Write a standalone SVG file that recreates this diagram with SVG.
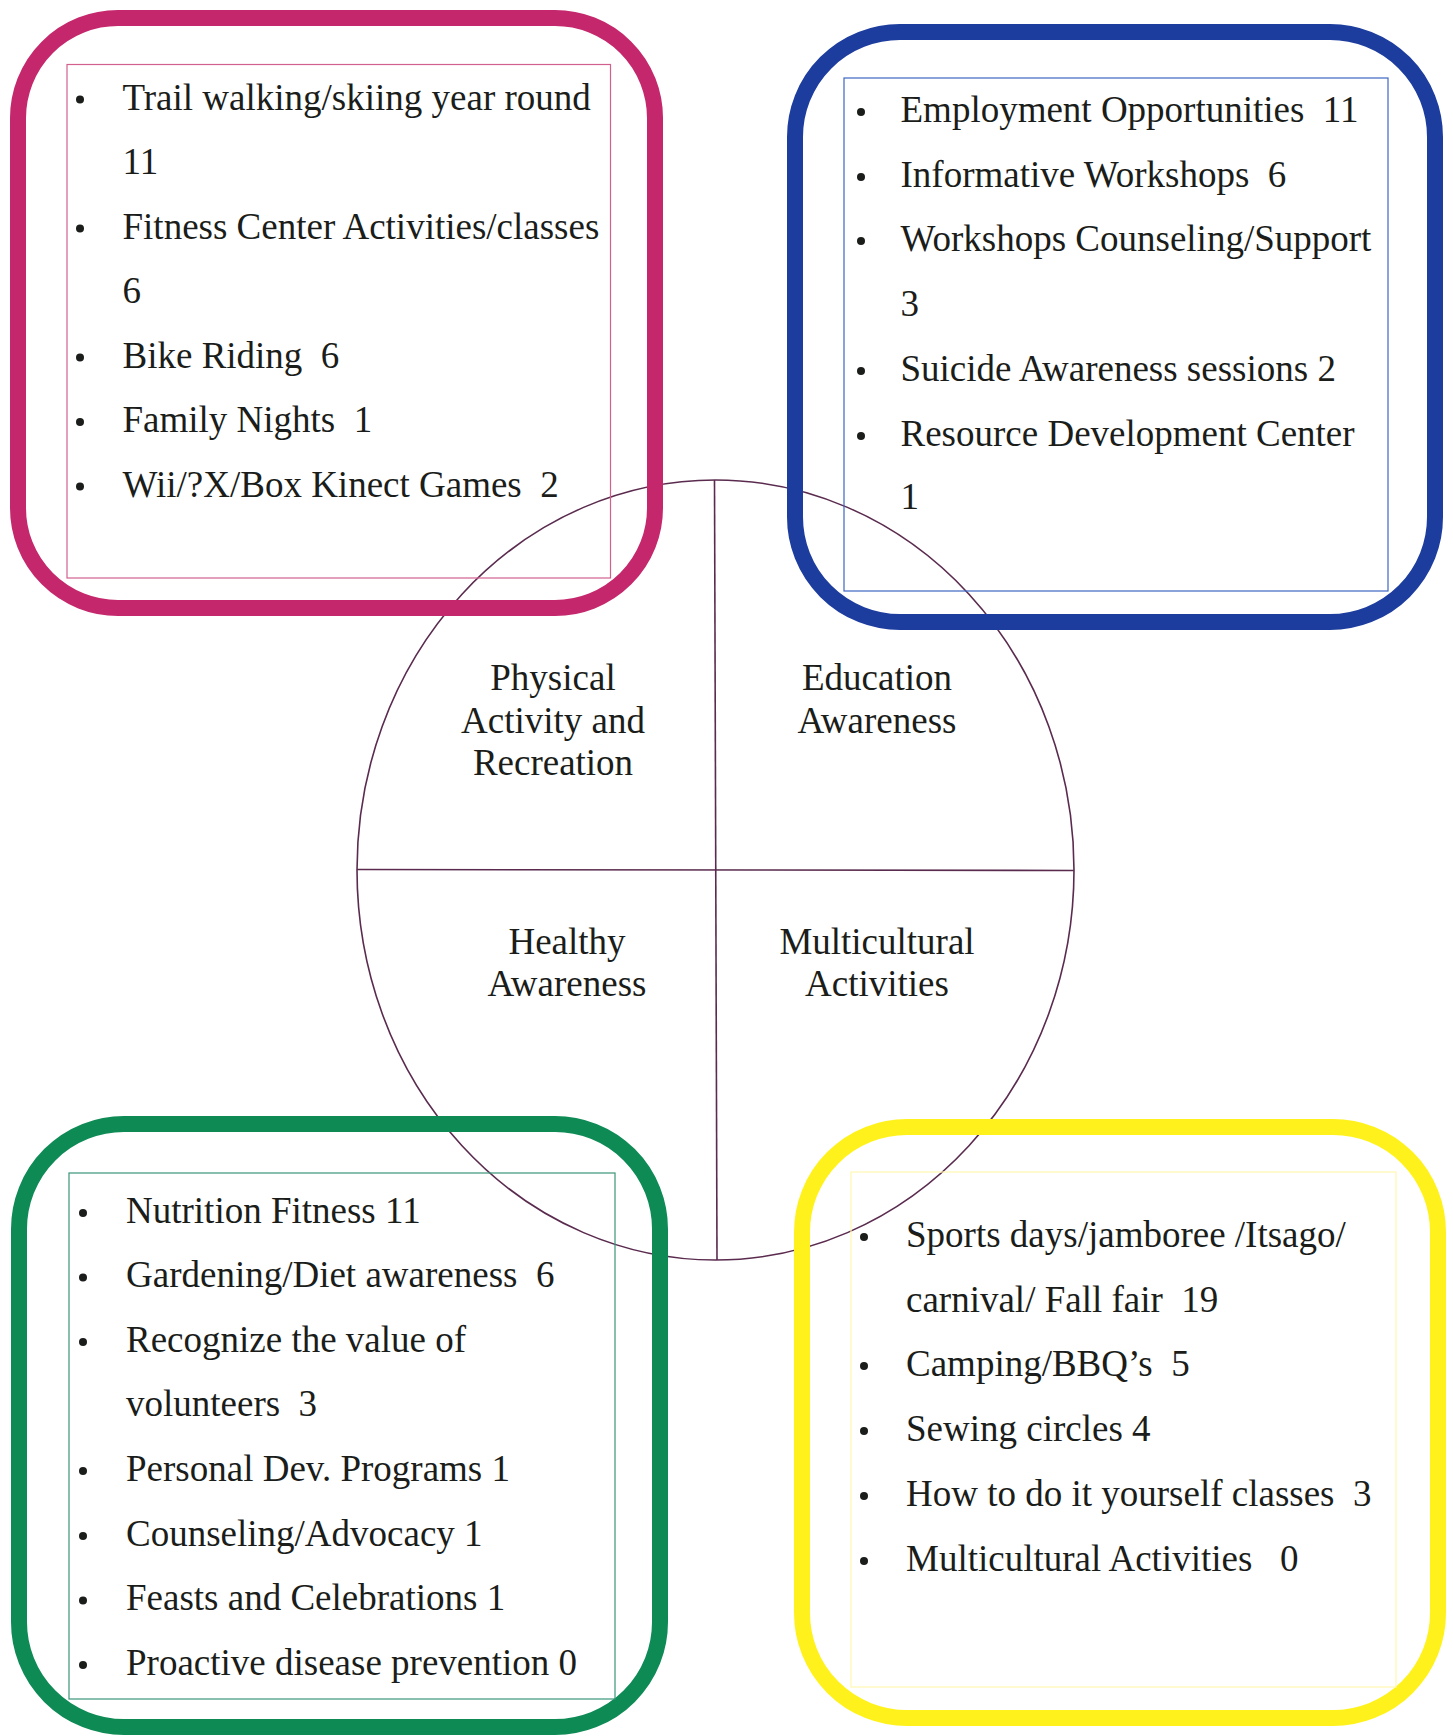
<svg xmlns="http://www.w3.org/2000/svg" width="1453" height="1736" viewBox="0 0 1453 1736">
<style>
text{font-family:"Liberation Serif","Times New Roman",serif;font-size:37px;fill:#1a1d1a;white-space:pre}
.lbl{text-anchor:middle}
.frame{fill:none;stroke-width:16}
.inner{fill:none;stroke-width:1.2}
.bul{fill:#1a1d1a}
.wheel{fill:none;stroke:#5a2b4e;stroke-width:1.6}
</style>
<rect width="1453" height="1736" fill="#ffffff"/>
<g id="connectors">
<ellipse class="wheel" cx="715.5" cy="870" rx="358.5" ry="390"/>
<line class="wheel" x1="714.5" y1="480" x2="717" y2="1260"/>
<line class="wheel" x1="357" y1="869.5" x2="1074" y2="870.5"/>
</g>
<g id="center-labels">
<text class="lbl" x="553" y="690">Physical</text>
<text class="lbl" x="553" y="733">Activity and</text>
<text class="lbl" x="553" y="775">Recreation</text>
<text class="lbl" x="877" y="690">Education</text>
<text class="lbl" x="877" y="733">Awareness</text>
<text class="lbl" x="567" y="954">Healthy</text>
<text class="lbl" x="567" y="996">Awareness</text>
<text class="lbl" x="877" y="954">Multicultural</text>
<text class="lbl" x="877" y="996">Activities</text>
</g>
<g id="physical">
<rect class="frame" x="18" y="18" width="637" height="590" rx="100" stroke="#c4276c"/>
<rect class="inner" x="67" y="64.5" width="543.5" height="513.5" stroke="#d2608f"/>
<circle class="bul" cx="80" cy="99.5" r="4"/>
<circle class="bul" cx="80" cy="228.5" r="4"/>
<circle class="bul" cx="80" cy="357.5" r="4"/>
<circle class="bul" cx="80" cy="422" r="4"/>
<circle class="bul" cx="80" cy="486.5" r="4"/>
<text x="122.5" y="109.5">Trail walking/skiing year round</text>
<text x="122.5" y="174">11</text>
<text x="122.5" y="238.5">Fitness Center Activities/classes</text>
<text x="122.5" y="303">6</text>
<text x="122.5" y="367.5">Bike Riding  6</text>
<text x="122.5" y="432">Family Nights  1</text>
<text x="122.5" y="496.5">Wii/?X/Box Kinect Games  2</text>
</g>
<g id="education">
<rect class="frame" x="795" y="32" width="640" height="590" rx="105" stroke="#1c3c9e"/>
<rect class="inner" x="844" y="78" width="544" height="513" stroke="#3d66c4"/>
<circle class="bul" cx="861" cy="112" r="4"/>
<circle class="bul" cx="861" cy="177" r="4"/>
<circle class="bul" cx="861" cy="241" r="4"/>
<circle class="bul" cx="861" cy="371" r="4"/>
<circle class="bul" cx="861" cy="436" r="4"/>
<text x="900.5" y="122">Employment Opportunities  11</text>
<text x="900.5" y="187">Informative Workshops  6</text>
<text x="900.5" y="251">Workshops Counseling/Support</text>
<text x="900.5" y="316">3</text>
<text x="900.5" y="381">Suicide Awareness sessions 2</text>
<text x="900.5" y="446">Resource Development Center</text>
<text x="900.5" y="509">1</text>
</g>
<g id="healthy">
<rect class="frame" x="19" y="1124" width="641" height="603" rx="105" stroke="#0e8a55"/>
<rect class="inner" x="69" y="1173" width="546" height="526" stroke="#3a9478"/>
<circle class="bul" cx="83" cy="1213" r="4"/>
<circle class="bul" cx="83" cy="1277.5" r="4"/>
<circle class="bul" cx="83" cy="1342" r="4"/>
<circle class="bul" cx="83" cy="1471" r="4"/>
<circle class="bul" cx="83" cy="1536" r="4"/>
<circle class="bul" cx="83" cy="1600.5" r="4"/>
<circle class="bul" cx="83" cy="1665" r="4"/>
<text x="126" y="1222.5">Nutrition Fitness 11</text>
<text x="126" y="1287">Gardening/Diet awareness  6</text>
<text x="126" y="1351.5">Recognize the value of</text>
<text x="126" y="1416">volunteers  3</text>
<text x="126" y="1481">Personal Dev. Programs 1</text>
<text x="126" y="1545.5">Counseling/Advocacy 1</text>
<text x="126" y="1610">Feasts and Celebrations 1</text>
<text x="126" y="1675">Proactive disease prevention 0</text>
</g>
<g id="multicultural">
<rect class="frame" x="802" y="1127" width="636" height="591" rx="105" stroke="#fff21c"/>
<rect class="inner" x="851" y="1172" width="545" height="515" stroke="#fff7b0"/>
<circle class="bul" cx="864" cy="1237" r="4"/>
<circle class="bul" cx="864" cy="1366" r="4"/>
<circle class="bul" cx="864" cy="1431" r="4"/>
<circle class="bul" cx="864" cy="1496" r="4"/>
<circle class="bul" cx="864" cy="1561" r="4"/>
<text x="906" y="1247">Sports days/jamboree /Itsago/</text>
<text x="906" y="1312">carnival/ Fall fair  19</text>
<text x="906" y="1376">Camping/BBQ’s  5</text>
<text x="906" y="1441">Sewing circles 4</text>
<text x="906" y="1506">How to do it yourself classes  3</text>
<text x="906" y="1571">Multicultural Activities   0</text>
</g>
</svg>
